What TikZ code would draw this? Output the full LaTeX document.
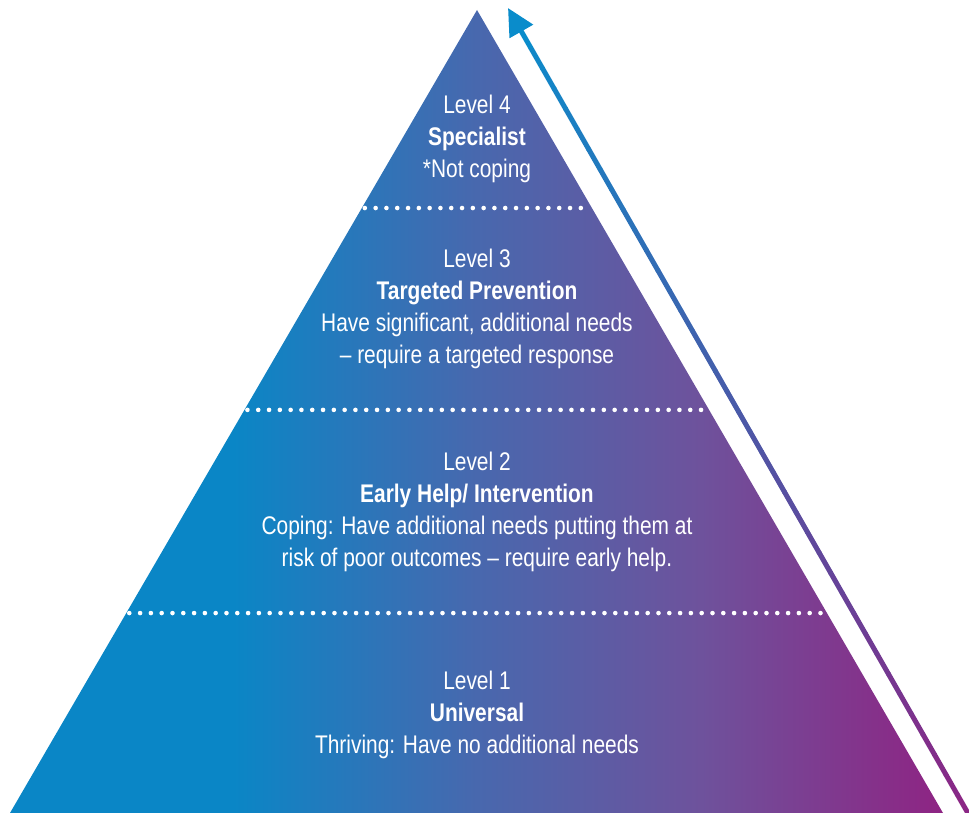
\documentclass[tikz,border=0pt]{standalone}
\usepackage{fontspec}
\setmainfont{Liberation Sans}[FakeStretch=0.82]
\usetikzlibrary{calc,arrows.meta}

\definecolor{pyrblue}{HTML}{0A86C6}
\definecolor{pyrmid}{HTML}{4868AE}
\definecolor{pyrlilac}{HTML}{6E529C}
\definecolor{pyrpurple}{HTML}{8E2483}
\definecolor{arrowblue}{HTML}{0A8CCB}

% left-to-right colour ramp of the pyramid
\pgfdeclarehorizontalshading{pyramidramp}{100bp}{%
  color(0bp)=(pyrblue); color(37bp)=(pyrblue); color(50bp)=(pyrmid);
  color(62bp)=(pyrlilac); color(75bp)=(pyrpurple); color(100bp)=(pyrpurple)}

\tikzset{
  lvltext/.style={text=white,align=center,font=\fontsize{25.5}{32}\selectfont,inner sep=0pt},
  dotline/.style={white,line width=4.6pt,line cap=round,dash pattern=on 0pt off 10.8pt,
    shorten <=3pt,shorten >=3pt},
}

\begin{document}
\begin{tikzpicture}[x=1pt,y=-1pt]
\useasboundingbox (0,0) rectangle (969,813);

% --- pyramid ---
\coordinate (apex) at (477,10);
\coordinate (baseL) at (10,813);
\coordinate (baseR) at (943,813);
\shade[shading=pyramidramp] (apex) -- (baseR) -- (baseL) -- cycle;

% level separators
\foreach \t/\nm in {0.2466/sepfour,0.498/septhree,0.751/septwo}{
  \coordinate (\nm L) at ($(apex)!\t!(baseL)$);
  \coordinate (\nm R) at ($(apex)!\t!(baseR)$);
  \draw[dotline] (\nm L) -- (\nm R);
}

% --- level texts ---
\node[lvltext] (lvlfour) at (477,139) {Level 4\\\textbf{Specialist}\\*Not coping};
\node[lvltext] (lvlthree) at (477,309) {Level 3\\\textbf{Targeted Prevention}\\Have significant, additional needs\\-- require a targeted response};
\node[lvltext] (lvltwo) at (477,512) {Level 2\\\textbf{Early Help/ Intervention}\\Coping: Have additional needs putting them at\\risk of poor outcomes -- require early help.};
\node[lvltext] (lvlone) at (477,715) {Level 1\\\textbf{Universal}\\Thriving: Have no additional needs};

% --- rising arrow, purple at the foot, blue at the tip ---
\coordinate (arrowfoot) at (969,815);
\coordinate (arrowtip) at (508,8);
\foreach \i [evaluate=\i as \s using (\i-1)/40, evaluate=\i as \e using \i/40,
             evaluate=\i as \pct using \i*2.5] in {1,...,38}{
  \draw[line width=5pt,line cap=round,color=arrowblue!\pct!pyrpurple]
    ($(arrowfoot)!\s!(arrowtip)$) -- ($(arrowfoot)!\e!(arrowtip)$);
}
\draw[arrowblue,line width=5pt,-{Triangle[length=27pt,width=26pt]}]
  ($(arrowfoot)!0.95!(arrowtip)$) -- (arrowtip);

\end{tikzpicture}
\end{document}
